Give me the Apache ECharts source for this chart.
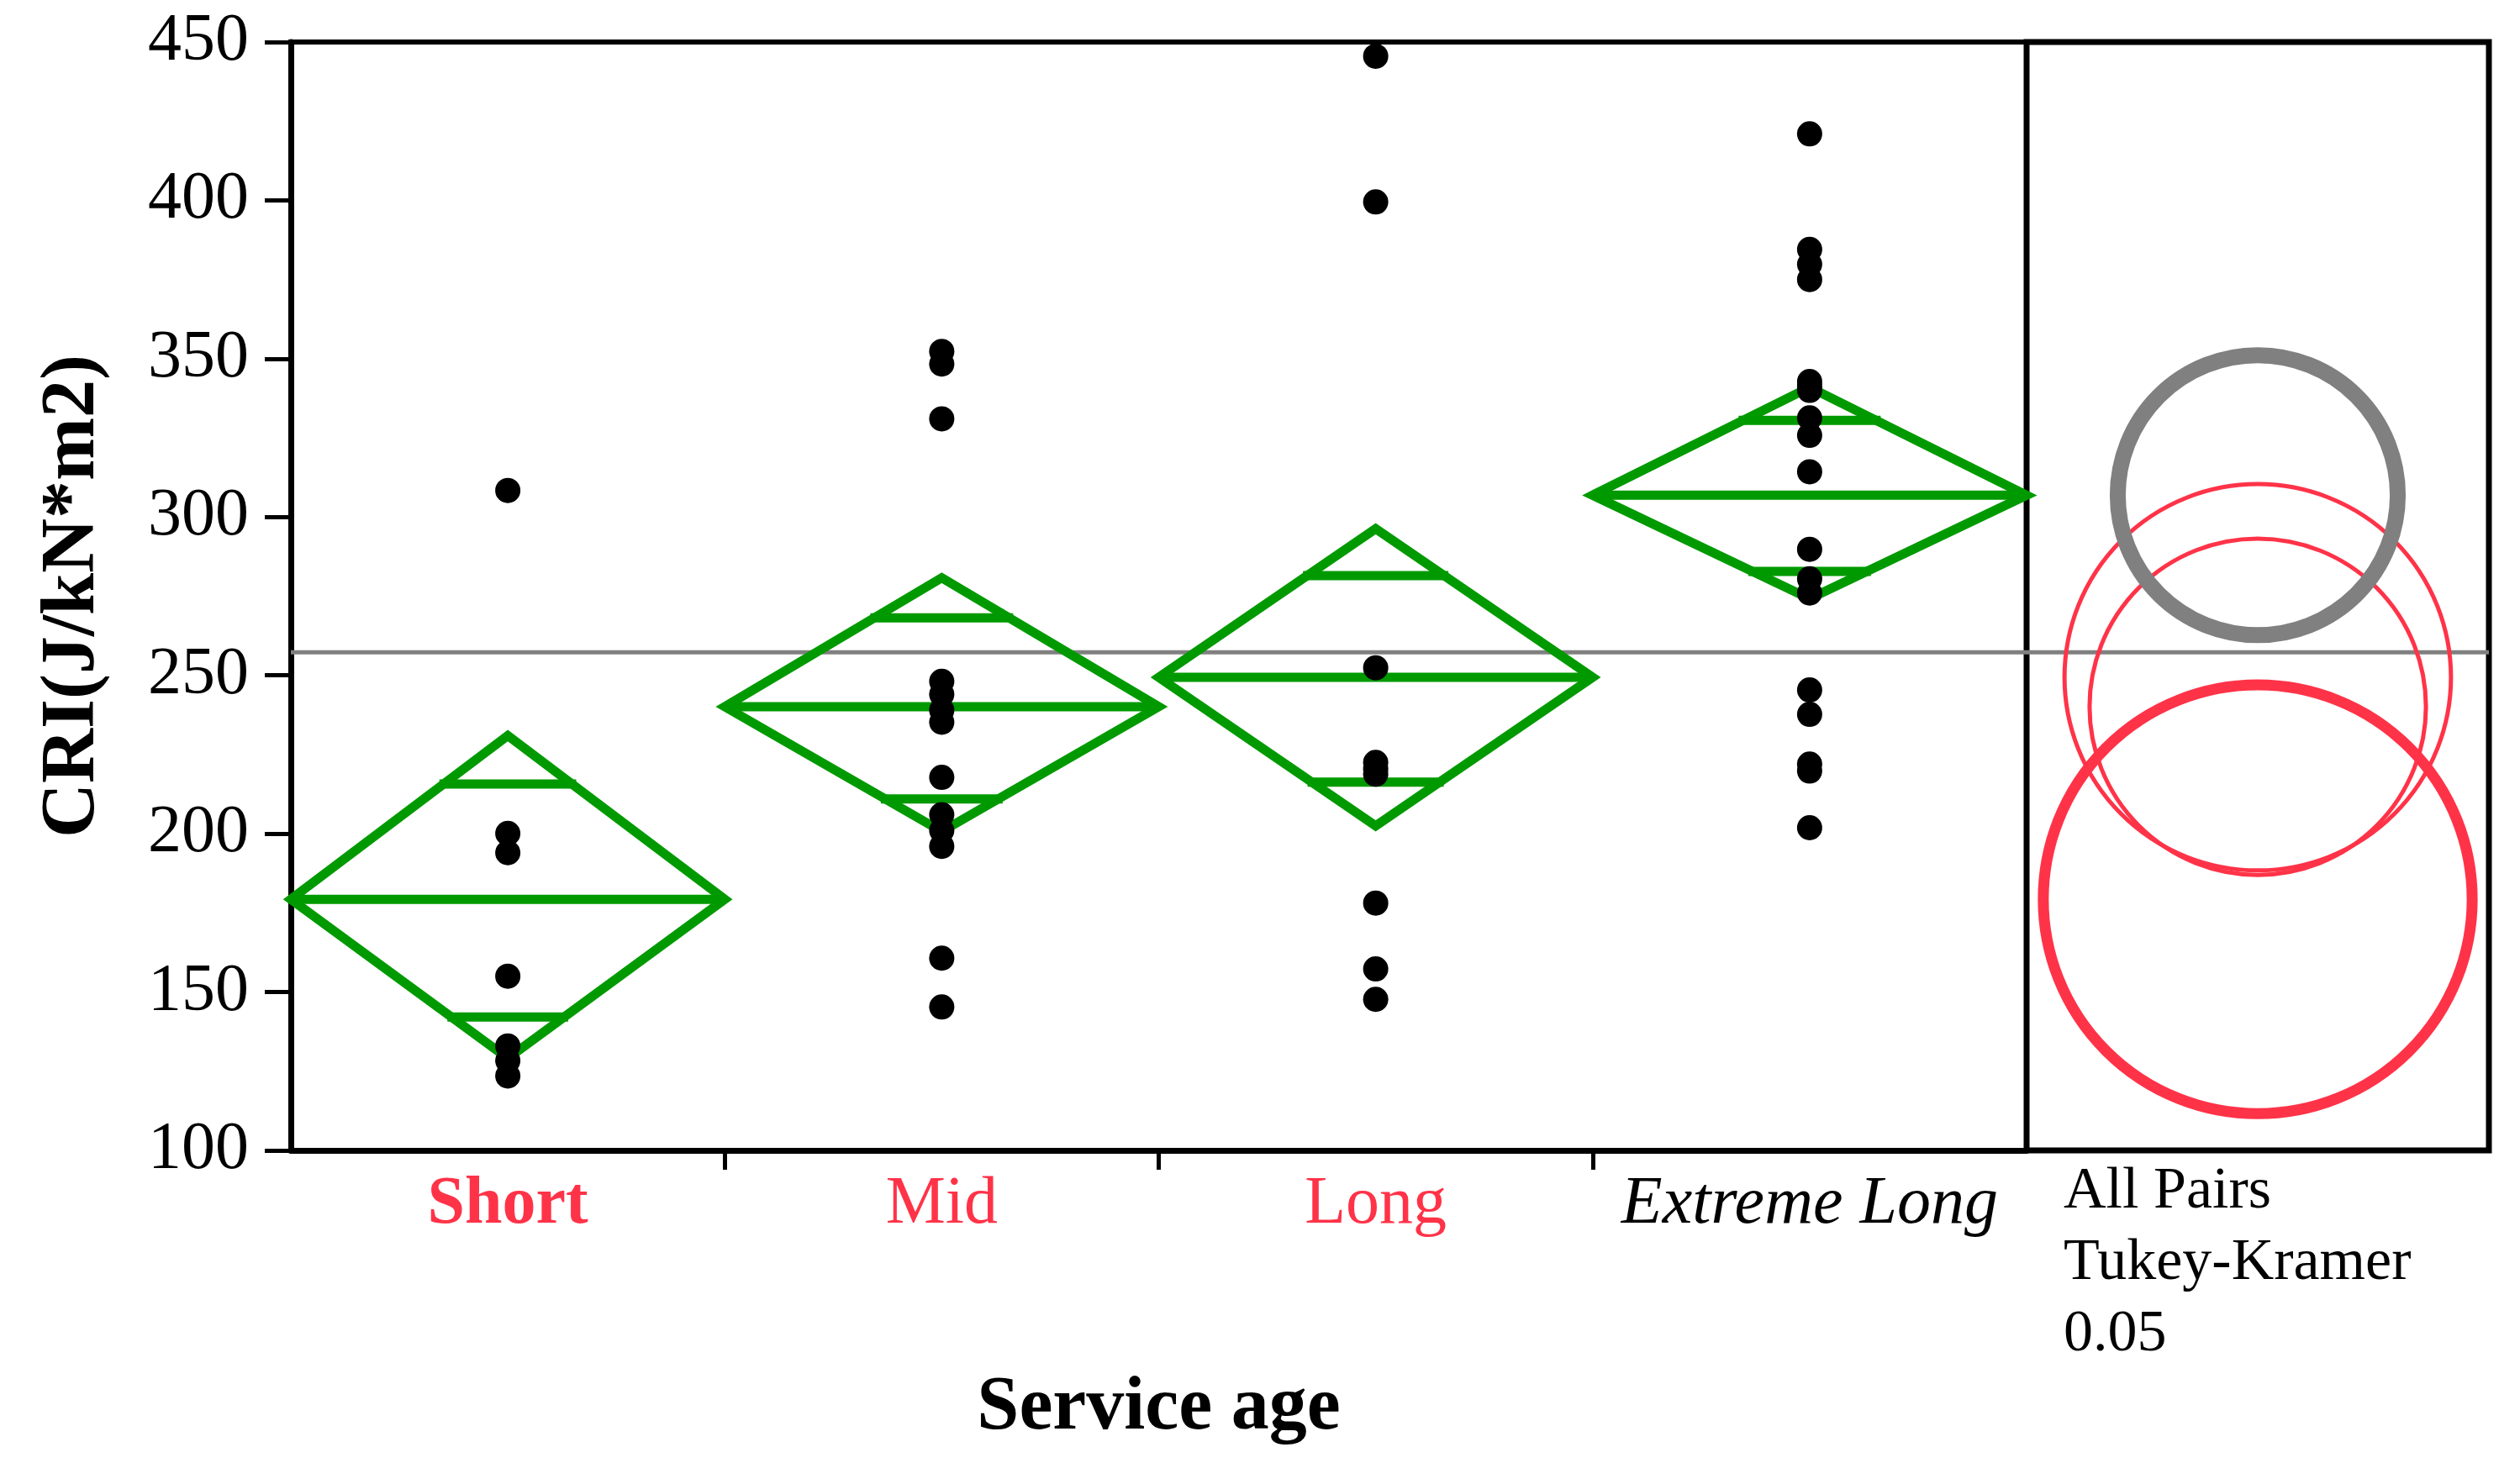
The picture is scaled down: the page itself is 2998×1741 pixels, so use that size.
<!DOCTYPE html>
<html><head><meta charset="utf-8">
<script src="https://cdn.jsdelivr.net/npm/echarts@6/dist/echarts.min.js"></script>
<style>html,body{margin:0;padding:0;background:#fff;}#c{width:2998px;height:1741px;}</style>
</head><body><div id="c"></div>
<script>
// ---- data ----
const categories = ['Short', 'Mid', 'Long', 'Extreme Long'];
const shortVals = [308.4, 200.1, 194.0, 155.0, 133.0, 128.3, 123.5];
const midVals = [352.3, 348.3, 331.0, 248.1, 244.0, 239.0, 235.2, 217.8, 206.0, 201.0, 196.0, 160.7, 145.3];
const longVals = [445.5, 399.5, 252.4, 222.5, 220.5, 218.8, 178.1, 157.3, 147.7];
const extremeVals = [421.0, 384.5, 379.8, 375.0, 342.8, 341.3, 340.0, 331.3, 325.8, 314.3, 289.8, 280.5, 276.0, 245.4, 237.7, 222.0, 219.8, 201.9];
const groupMeans = [179.3, 240.1, 249.4, 306.9];
const ciUpper = [231.0, 280.8, 296.3, 341.0];
const ciLower = [129.1, 200.7, 202.5, 274.2];
const overlapUpper = [215.7, 268.2, 281.5, 330.5];
const overlapLower = [142.1, 211.0, 216.3, 282.8];
const grandMean = 257.3;
const circleRadius = [67.7, 53.1, 61.0, 44.2];
const panelText = ['All Pairs', 'Tukey-Kramer', '0.05'];
const yMin = 100, yMax = 450, yStep = 50;

// ---- styles ----
const FONT = '"Liberation Serif", "DejaVu Serif", serif';
const GREEN = '#009a00';
const RED = '#ff3348';
const GRAY = '#808080';
const labelStyleKey = ['s', 'r', 'r', 'e'];
const circleStyle = [
  {stroke: RED, lineWidth: 13},
  {stroke: RED, lineWidth: 5},
  {stroke: RED, lineWidth: 5},
  {stroke: GRAY, lineWidth: 19}
];

const groups = [shortVals, midVals, longVals, extremeVals];
const scatterData = [];
groups.forEach((vals, i) => vals.forEach(v => scatterData.push([i, v])));

const diamondData = categories.map((c, i) => [i, groupMeans[i], ciLower[i], ciUpper[i], overlapUpper[i], overlapLower[i]]);
const circleOrder = [0, 1, 2, 3];
const circleData = circleOrder.map(i => [0.5, groupMeans[i], circleRadius[i], i]);

function renderDiamond(params, api) {
  const i = api.value(0);
  const c = api.coord([i, api.value(1)]);
  const bot = api.coord([i, api.value(2)]);
  const top = api.coord([i, api.value(3)]);
  const oh = api.coord([i, api.value(4)]);
  const ol = api.coord([i, api.value(5)]);
  const hw = api.size([1, 0])[0] / 2;
  const cx = c[0], cy = c[1];
  const wu = hw * (1 - Math.abs(oh[1] - cy) / Math.abs(top[1] - cy)) + 5;
  const wl = hw * (1 - Math.abs(ol[1] - cy) / Math.abs(bot[1] - cy)) + 5;
  const st = {fill: null, stroke: GREEN, lineWidth: 11};
  return {
    type: 'group',
    children: [
      {type: 'polygon', shape: {points: [[cx - hw, cy], [cx, top[1]], [cx + hw, cy], [cx, bot[1]]]}, style: Object.assign({lineJoin: 'miter'}, st)},
      {type: 'line', shape: {x1: cx - hw, y1: cy, x2: cx + hw, y2: cy}, style: st},
      {type: 'line', shape: {x1: cx - wu, y1: oh[1], x2: cx + wu, y2: oh[1]}, style: st},
      {type: 'line', shape: {x1: cx - wl, y1: ol[1], x2: cx + wl, y2: ol[1]}, style: st}
    ]
  };
}

function renderCircle(params, api) {
  const c = api.coord([api.value(0), api.value(1)]);
  const r = api.size([0, api.value(2)])[1];
  const s = circleStyle[api.value(3)];
  return {type: 'circle', shape: {cx: c[0], cy: c[1], r: r}, style: {fill: null, stroke: s.stroke, lineWidth: s.lineWidth}};
}

const chart = echarts.init(document.getElementById('c'), null, {renderer: 'canvas'});
chart.setOption({
  animation: false,
  backgroundColor: '#fff',
  textStyle: {fontFamily: FONT},
  grid: [
    {left: 346, top: 50, width: 2065, height: 1319, show: true, borderColor: '#000', borderWidth: 6, backgroundColor: 'transparent'},
    {left: 2411, top: 50, width: 550, height: 1319, show: true, borderColor: '#000', borderWidth: 7, backgroundColor: 'transparent'}
  ],
  xAxis: [
    {
      type: 'value', gridIndex: 0, min: -0.5, max: categories.length - 0.5,
      axisLine: {show: true, onZero: false, lineStyle: {color: '#000', width: 7}},
      axisTick: {show: true, customValues: [0.5, 1.5, 2.5], length: 23, lineStyle: {color: '#000', width: 5}},
      splitLine: {show: false},
      axisLabel: {
        customValues: [0, 1, 2, 3], margin: 25,
        formatter: v => { const k = Math.round(v); return '{' + labelStyleKey[k] + '|' + categories[k] + '}'; },
        rich: {
          s: {fontFamily: FONT, fontSize: 80, fontWeight: 'bold', color: RED},
          r: {fontFamily: FONT, fontSize: 80, color: RED},
          e: {fontFamily: FONT, fontSize: 80, fontStyle: 'italic', color: '#000'}
        }
      },
      name: 'Service age', nameLocation: 'middle', nameGap: 263,
      nameTextStyle: {fontFamily: FONT, fontSize: 90, fontWeight: 'bold', color: '#000'}
    },
    {type: 'value', gridIndex: 1, min: 0, max: 1, show: false}
  ],
  yAxis: [
    {
      type: 'value', gridIndex: 0, min: yMin, max: yMax, interval: yStep,
      axisLine: {show: true, onZero: false, lineStyle: {color: '#000', width: 7}},
      axisTick: {show: true, length: 31, lineStyle: {color: '#000', width: 5}},
      splitLine: {show: false},
      axisLabel: {fontFamily: FONT, fontSize: 80, color: '#000', margin: 50},
      name: 'CRI(J/kN*m2)', nameLocation: 'middle', nameGap: 213, nameRotate: 90,
      nameTextStyle: {fontFamily: FONT, fontSize: 90, fontWeight: 'bold', color: '#000'}
    },
    {type: 'value', gridIndex: 1, min: yMin, max: yMax, show: false}
  ],
  series: [
    {
      type: 'line', xAxisIndex: 0, yAxisIndex: 0, z: 1, showSymbol: false, silent: true,
      data: [[-0.5, grandMean], [categories.length - 0.5, grandMean]],
      lineStyle: {color: GRAY, width: 5}
    },
    {
      type: 'line', xAxisIndex: 1, yAxisIndex: 1, z: 1, showSymbol: false, silent: true,
      data: [[0, grandMean], [1, grandMean]],
      lineStyle: {color: GRAY, width: 5}
    },
    {
      type: 'custom', xAxisIndex: 0, yAxisIndex: 0, z: 2, renderItem: renderDiamond,
      data: diamondData, encode: {x: 0, y: 1}
    },
    {
      type: 'scatter', xAxisIndex: 0, yAxisIndex: 0, z: 3, symbol: 'circle', symbolSize: 30,
      itemStyle: {color: '#000', opacity: 1}, data: scatterData
    },
    {
      type: 'custom', xAxisIndex: 1, yAxisIndex: 1, z: 2, renderItem: renderCircle,
      data: circleData, encode: {x: 0, y: 1}
    }
  ],
  graphic: [
    {
      type: 'text', left: 2455, top: 1376,
      style: {text: panelText.join('\n'), fontFamily: FONT, fontSize: 70, lineHeight: 85, fill: '#000'}
    }
  ]
});
</script></body></html>
